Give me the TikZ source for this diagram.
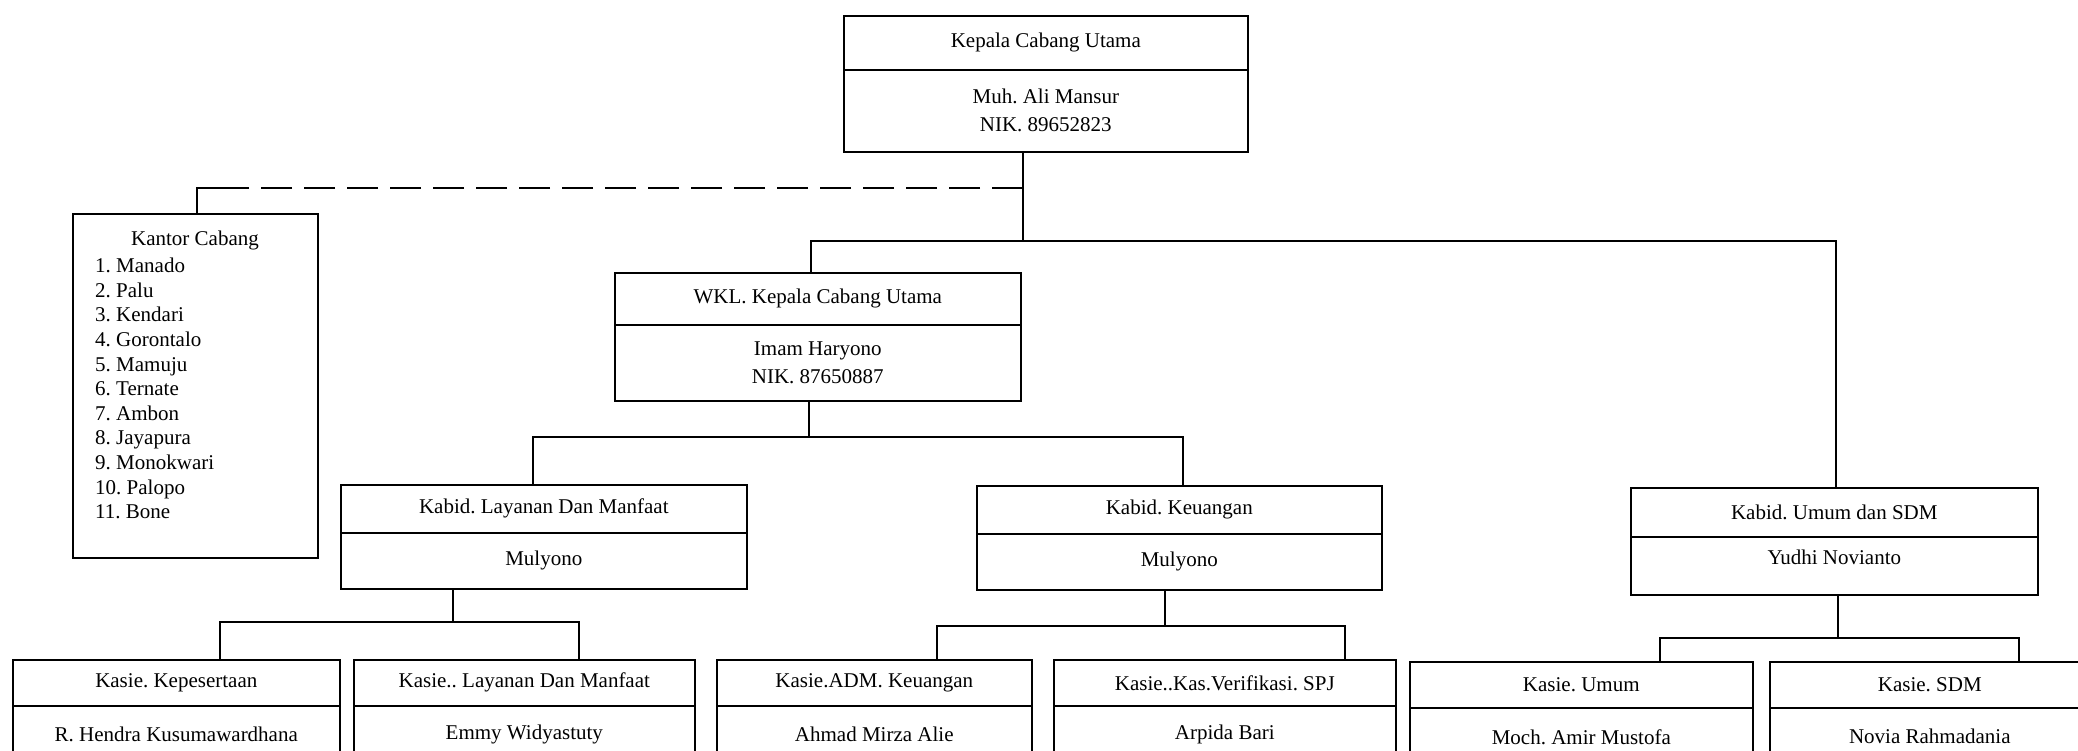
\documentclass[tikz,border=0pt]{standalone}
\usepackage{fontspec}
\setmainfont{Liberation Serif}
\frenchspacing
\begin{document}
\frenchspacing
\begin{tikzpicture}[x=1pt,y=-1pt,
  part/.style={draw, line width=1.6pt, inner sep=0pt, anchor=north west, align=center, font=\fontsize{21}{28}\selectfont},
  conn/.style={line width=1.6pt},
  dashconn/.style={line width=1.6pt, dash pattern=on 31pt off 12pt},
  lbl/.style={inner sep=0pt, font=\fontsize{21}{24.6}\selectfont}]
\clip (0,0) rectangle (2078,750);

% top
\node[part, minimum width=404pt, minimum height=54pt] (kt) at (843,15) {Kepala Cabang Utama};
\node[part, minimum width=404pt, minimum height=82pt] (kn) at (843,69) {Muh. Ali Mansur\\NIK. 89652823};

% kantor cabang
\node[part, minimum width=245pt, minimum height=344pt] (kc) at (72,213) {};
\node[lbl, anchor=base] (kct) at (195,245) {Kantor Cabang};
\node[lbl, anchor=north west, align=left] (kcl) at (95,258) {1. Manado\\2. Palu\\3. Kendari\\4. Gorontalo\\5. Mamuju\\6. Ternate\\7. Ambon\\8. Jayapura\\9. Monokwari\\10. Palopo\\11. Bone};

% wakil
\node[part, minimum width=406pt, minimum height=52pt] (wt) at (614,272) {WKL. Kepala Cabang Utama};
\node[part, minimum width=406pt, minimum height=76pt] (wn) at (614,324) {Imam Haryono\\NIK. 87650887};

% kabid
\node[part, minimum width=406pt, minimum height=48pt] (lt) at (340,484) {Kabid. Layanan Dan Manfaat};
\node[part, minimum width=406pt, minimum height=56pt] (ln) at (340,532) {Mulyono};
\node[part, minimum width=405pt, minimum height=48pt] (et) at (976,485) {Kabid. Keuangan};
\node[part, minimum width=405pt, minimum height=56pt] (en) at (976,533) {Mulyono};
\node[part, minimum width=407pt, minimum height=49pt] (ut) at (1630,487) {Kabid. Umum dan SDM};
\node[part, minimum width=407pt, minimum height=58pt, text height=14.5pt, text depth=18pt] (un) at (1630,536) {Yudhi Novianto};

% kasie
\node[part, minimum width=327pt, minimum height=46pt] (s1t) at (12,659) {Kasie. Kepesertaan};
\node[part, minimum width=327pt, minimum height=58pt] (s1n) at (12,705) {R. Hendra Kusumawardhana};
\node[part, minimum width=341pt, minimum height=46pt] (s2t) at (353,659) {Kasie.. Layanan Dan Manfaat};
\node[part, minimum width=341pt, minimum height=58pt] (s2n) at (353,705) {Emmy Widyastuty};
\node[part, minimum width=315pt, minimum height=46pt] (s3t) at (716,659) {Kasie.ADM. Keuangan};
\node[part, minimum width=315pt, minimum height=58pt] (s3n) at (716,705) {Ahmad Mirza Alie};
\node[part, minimum width=342pt, minimum height=46pt] (s4t) at (1053,659) {Kasie..Kas.Verifikasi. SPJ};
\node[part, minimum width=342pt, minimum height=58pt] (s4n) at (1053,705) {Arpida Bari};
\node[part, minimum width=343pt, minimum height=46pt] (s5t) at (1409,661) {Kasie. Umum};
\node[part, minimum width=343pt, minimum height=58pt] (s5n) at (1409,707) {Moch. Amir Mustofa};
\node[part, minimum width=320pt, minimum height=46pt] (s6t) at (1769,661) {Kasie. SDM};
\node[part, minimum width=320pt, minimum height=58pt] (s6n) at (1769,707) {Novia Rahmadania};

% junction coordinates
\coordinate (j1) at (1023,241);
\coordinate (d1) at (197,188);
\coordinate (d2) at (1023,188);
\coordinate (a1) at (811,241);
\coordinate (a2) at (1836,241);
\coordinate (b0) at (809,437);
\coordinate (b1) at (533,437);
\coordinate (b2) at (1183,437);
\coordinate (c0) at (453,622);
\coordinate (c1) at (220,622);
\coordinate (c2) at (579,622);
\coordinate (e0) at (1165,626);
\coordinate (e1) at (937,626);
\coordinate (e2) at (1345,626);
\coordinate (f0) at (1838,638);
\coordinate (f1) at (1660,638);
\coordinate (f2) at (2019,638);

% connectors
\draw[conn] (kn.south -| j1) -- (j1);
\draw[conn] (d1 |- kc.north) -- (d1) -- ++(30,0);
\draw[dashconn] (d2) -- (d1);
\draw[conn] (a1 |- wt.north) -- (a1) -- (a2) -- (a2 |- ut.north);

\draw[conn] (wn.south -| b0) -- (b0);
\draw[conn] (b1 |- lt.north) -- (b1) -- (b2) -- (b2 |- et.north);

\draw[conn] (ln.south -| c0) -- (c0);
\draw[conn] (c1 |- s1t.north) -- (c1) -- (c2) -- (c2 |- s2t.north);

\draw[conn] (en.south -| e0) -- (e0);
\draw[conn] (e1 |- s3t.north) -- (e1) -- (e2) -- (e2 |- s4t.north);

\draw[conn] (un.south -| f0) -- (f0);
\draw[conn] (f1 |- s5t.north) -- (f1) -- (f2) -- (f2 |- s6t.north);
\end{tikzpicture}
\end{document}
